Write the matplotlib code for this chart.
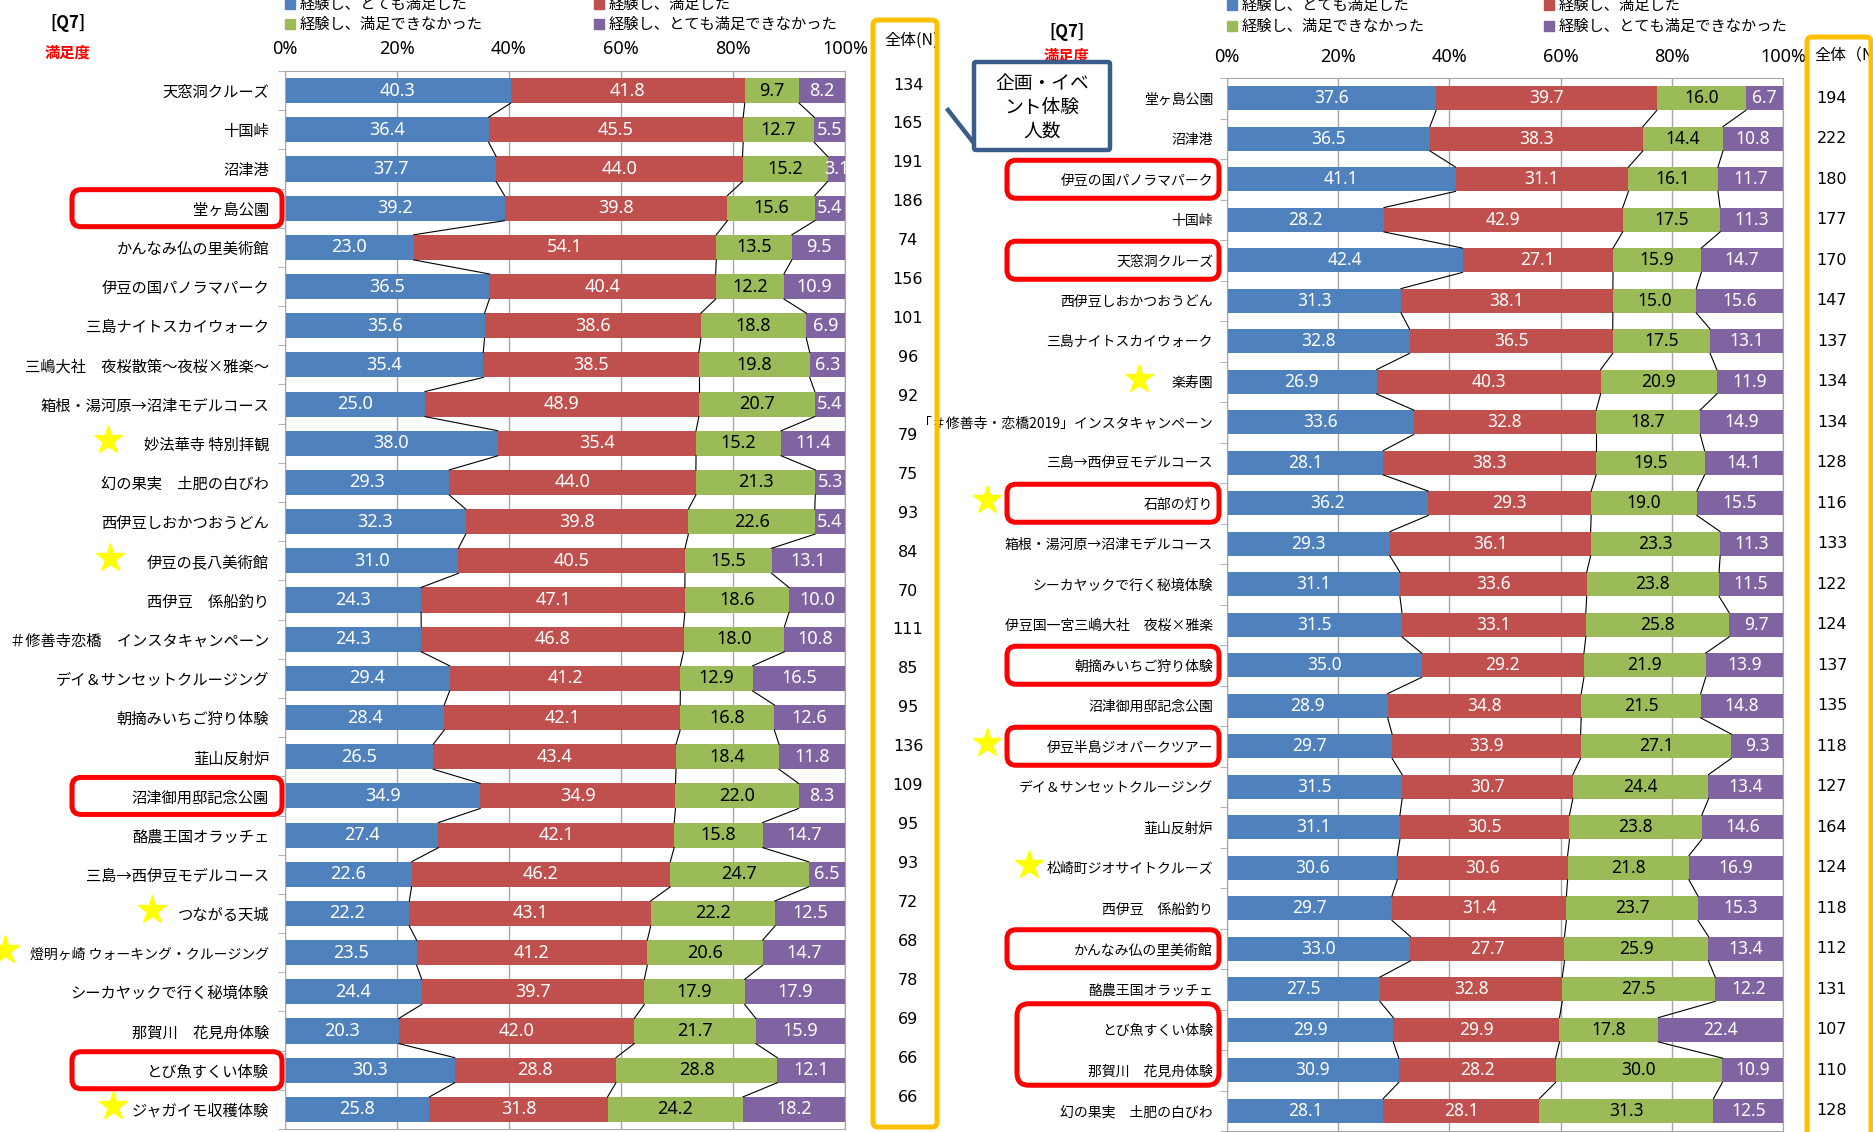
import numpy as np
import matplotlib.pyplot as plt
import matplotlib.transforms as mtrans
from matplotlib.patches import FancyBboxPatch, Rectangle
from matplotlib.lines import Line2D

plt.rcParams['font.family'] = ['Noto Sans CJK JP', 'DejaVu Sans']

# ---- data ----
series = ['経験し、とても満足した', '経験し、満足した',
          '経験し、満足できなかった', '経験し、とても満足できなかった']

left_labels = ['天窓洞クルーズ', '十国峠', '沼津港', '堂ヶ島公園', 'かんなみ仏の里美術館',
               '伊豆の国パノラマパーク', '三島ナイトスカイウォーク', '三嶋大社　夜桜散策～夜桜×雅楽～',
               '箱根・湯河原→沼津モデルコース', '妙法華寺 特別拝観', '幻の果実　土肥の白びわ',
               '西伊豆しおかつおうどん', '伊豆の長八美術館', '西伊豆　係船釣り',
               '＃修善寺恋橋　インスタキャンペーン', 'デイ＆サンセットクルージング', '朝摘みいちご狩り体験',
               '韮山反射炉', '沼津御用邸記念公園', '酪農王国オラッチェ', '三島→西伊豆モデルコース',
               'つながる天城', '燈明ヶ崎 ウォーキング・クルージング', 'シーカヤックで行く秘境体験',
               '那賀川　花見舟体験', 'とび魚すくい体験', 'ジャガイモ収穫体験']
left_very = [40.3, 36.4, 37.7, 39.2, 23.0, 36.5, 35.6, 35.4, 25.0, 38.0, 29.3, 32.3, 31.0, 24.3,
             24.3, 29.4, 28.4, 26.5, 34.9, 27.4, 22.6, 22.2, 23.5, 24.4, 20.3, 30.3, 25.8]
left_sat = [41.8, 45.5, 44.0, 39.8, 54.1, 40.4, 38.6, 38.5, 48.9, 35.4, 44.0, 39.8, 40.5, 47.1,
            46.8, 41.2, 42.1, 43.4, 34.9, 42.1, 46.2, 43.1, 41.2, 39.7, 42.0, 28.8, 31.8]
left_unsat = [9.7, 12.7, 15.2, 15.6, 13.5, 12.2, 18.8, 19.8, 20.7, 15.2, 21.3, 22.6, 15.5, 18.6,
              18.0, 12.9, 16.8, 18.4, 22.0, 15.8, 24.7, 22.2, 20.6, 17.9, 21.7, 28.8, 24.2]
left_very_unsat = [8.2, 5.5, 3.1, 5.4, 9.5, 10.9, 6.9, 6.3, 5.4, 11.4, 5.3, 5.4, 13.1, 10.0,
                   10.8, 16.5, 12.6, 11.8, 8.3, 14.7, 6.5, 12.5, 14.7, 17.9, 15.9, 12.1, 18.2]
left_n = [134, 165, 191, 186, 74, 156, 101, 96, 92, 79, 75, 93, 84, 70, 111, 85, 95, 136, 109,
          95, 93, 72, 68, 78, 69, 66, 66]

right_labels = ['堂ヶ島公園', '沼津港', '伊豆の国パノラマパーク', '十国峠', '天窓洞クルーズ',
                '西伊豆しおかつおうどん', '三島ナイトスカイウォーク', '楽寿園',
                '「＃修善寺・恋橋2019」インスタキャンペーン', '三島→西伊豆モデルコース', '石部の灯り',
                '箱根・湯河原→沼津モデルコース', 'シーカヤックで行く秘境体験', '伊豆国一宮三嶋大社　夜桜×雅楽',
                '朝摘みいちご狩り体験', '沼津御用邸記念公園', '伊豆半島ジオパークツアー',
                'デイ＆サンセットクルージング', '韮山反射炉', '松崎町ジオサイトクルーズ', '西伊豆　係船釣り',
                'かんなみ仏の里美術館', '酪農王国オラッチェ', 'とび魚すくい体験', '那賀川　花見舟体験',
                '幻の果実　土肥の白びわ']
right_very = [37.6, 36.5, 41.1, 28.2, 42.4, 31.3, 32.8, 26.9, 33.6, 28.1, 36.2, 29.3, 31.1, 31.5,
              35.0, 28.9, 29.7, 31.5, 31.1, 30.6, 29.7, 33.0, 27.5, 29.9, 30.9, 28.1]
right_sat = [39.7, 38.3, 31.1, 42.9, 27.1, 38.1, 36.5, 40.3, 32.8, 38.3, 29.3, 36.1, 33.6, 33.1,
             29.2, 34.8, 33.9, 30.7, 30.5, 30.6, 31.4, 27.7, 32.8, 29.9, 28.2, 28.1]
right_unsat = [16.0, 14.4, 16.1, 17.5, 15.9, 15.0, 17.5, 20.9, 18.7, 19.5, 19.0, 23.3, 23.8, 25.8,
               21.9, 21.5, 27.1, 24.4, 23.8, 21.8, 23.7, 25.9, 27.5, 17.8, 30.0, 31.3]
right_very_unsat = [6.7, 10.8, 11.7, 11.3, 14.7, 15.6, 13.1, 11.9, 14.9, 14.1, 15.5, 11.3, 11.5,
                    9.7, 13.9, 14.8, 9.3, 13.4, 14.6, 16.9, 15.3, 13.4, 12.2, 22.4, 10.9, 12.5]
right_n = [194, 222, 180, 177, 170, 147, 137, 134, 134, 128, 116, 133, 122, 124, 137, 135, 118,
           127, 164, 124, 118, 112, 131, 107, 110, 128]

# highlighted / starred items
left_boxed = ['堂ヶ島公園', '沼津御用邸記念公園', 'とび魚すくい体験']
left_stars = {'妙法華寺 特別拝観': 108, '伊豆の長八美術館': 110, 'つながる天城': 152,
              '燈明ヶ崎 ウォーキング・クルージング': 5, 'ジャガイモ収穫体験': 113}
right_boxed = ['伊豆の国パノラマパーク', '天窓洞クルーズ', '石部の灯り', '朝摘みいちご狩り体験',
               '伊豆半島ジオパークツアー', 'かんなみ仏の里美術館']
right_stars = {'楽寿園': 1139, '石部の灯り': 987, '伊豆半島ジオパークツアー': 987,
               '松崎町ジオサイトクルーズ': 1029}

colors = ['#4F81BD', '#C0504D', '#9BBB59', '#8064A2']
txt_colors = ['white', 'white', 'black', 'white']

W, H = 1874, 1132
fig = plt.figure(figsize=(W / 100, H / 100), dpi=100)


def fx(x):
    return x / W


def fy(y):
    return 1 - y / H


def rbox(x0, y0, x1, y1, color, lw, r, face='none', z=6):
    # pixel box (top-left origin) drawn in inches so corners stay round
    p = FancyBboxPatch((x0 / 100, (H - y1) / 100), (x1 - x0) / 100, (y1 - y0) / 100,
                       boxstyle=f'round,pad=0,rounding_size={r}',
                       transform=fig.dpi_scale_trans, facecolor=face,
                       edgecolor=color, lw=lw, zorder=z)
    fig.add_artist(p)


def panel(left, top, right, bottom, labels, cols, lab_size, val_size, bar_h, pad, tick_pad):
    ax = fig.add_axes([fx(left), fy(bottom), fx(right - left), (bottom - top) / H])
    data = np.array(cols, float).T
    vals = data / data.sum(axis=1, keepdims=True) * 100
    n = len(labels)
    y = np.arange(n)
    cum = np.zeros(n)
    for k in range(4):
        ax.barh(y, vals[:, k], left=cum, height=bar_h, color=colors[k], zorder=2)
        for i in range(n):
            ax.text(cum[i] + vals[i, k] / 2, i, f'{data[i, k]:.1f}', ha='center', va='center',
                    color=txt_colors[k], fontsize=val_size, family='Noto Sans', zorder=4)
        cum = cum + vals[:, k]
        # series lines between neighbouring bars
        for i in range(n - 1):
            ax.plot([cum[i], cum[i + 1]], [i + bar_h / 2, i + 1 - bar_h / 2],
                    color='black', lw=0.8, zorder=3)
    ax.set_xlim(0, 100)
    ax.set_ylim(n - 0.5, -0.5)
    ax.xaxis.tick_top()
    ax.set_xticks([0, 20, 40, 60, 80, 100])
    ax.set_xticklabels([f'{v}%' for v in [0, 20, 40, 60, 80, 100]], family='Noto Sans', fontsize=13)
    ax.tick_params(axis='x', length=0, pad=tick_pad)
    ax.set_yticks(y)
    ax.set_yticklabels(labels, fontsize=lab_size)
    ax.set_yticks(np.arange(n + 1) - 0.5, minor=True)
    ax.tick_params(axis='y', which='major', length=0, pad=pad)
    ax.tick_params(axis='y', which='minor', length=5, color='#A6A6A6', direction='out')
    ax.xaxis.grid(True, color='#A6A6A6', lw=1)
    ax.set_axisbelow(True)
    for s in ax.spines.values():
        s.set_color('#A6A6A6')
    return ax


# ---- left panel ----
L_TOP, L_BOT = 71, 1129
axl = panel(285, L_TOP, 845, L_BOT, left_labels,
            [left_very, left_sat, left_unsat, left_very_unsat], 11, 13, 0.64, 11.5, 9)
l_sp = (L_BOT - L_TOP) / len(left_labels)
# the long katakana label is set a little tighter, as in the reference
axl.get_yticklabels()[left_labels.index('燈明ヶ崎 ウォーキング・クルージング')].set_fontsize(10)

# ---- right panel ----
R_TOP, R_BOT = 78, 1131
axr = panel(1227, R_TOP, 1783, R_BOT, right_labels,
            [right_very, right_sat, right_unsat, right_very_unsat], 10, 12.5, 0.6, 10, 9)
r_sp = (R_BOT - R_TOP) / len(right_labels)

# N columns
n_step = (1097 - 85) / (len(left_n) - 1)
for i, v in enumerate(left_n):
    fig.text(fx(908), fy(85 + i * n_step), str(v), ha='center', va='center',
             fontsize=11.5, family='DejaVu Sans')
tr = mtrans.blended_transform_factory(fig.transFigure, axr.transData)
for i, v in enumerate(right_n):
    fig.text(fx(1832), i, str(v), transform=tr, ha='center', va='center',
             fontsize=11.5, family='DejaVu Sans')

fig.text(fx(912), fy(40), '全体(N)', ha='center', va='center', fontsize=11.5, zorder=5)
fig.text(fx(1814), fy(56), '全体（N）', ha='left', va='center', fontsize=11.5, zorder=5)
rbox(873, 20, 937, 1127, '#FFC000', 3.6, 0.05)
rbox(1807, 37, 1871, 1140, '#FFC000', 3.6, 0.05)

# titles
fig.text(fx(68), fy(23), '[Q7]', ha='center', va='center', fontsize=12, weight='bold')
fig.text(fx(68), fy(53), '満足度', ha='center', va='center', fontsize=11, weight='bold', color='red')
fig.text(fx(1067), fy(32), '[Q7]', ha='center', va='center', fontsize=12, weight='bold')
fig.text(fx(1067), fy(56), '満足度', ha='center', va='center', fontsize=11, weight='bold',
         color='red', zorder=5)

# legends
for (x0, x1, y0, y1) in [(285, 594, 4, 24), (1227, 1544, 5, 26)]:
    pos = [(x0, y0), (x1, y0), (x0, y1), (x1, y1)]
    for k, (px, py) in enumerate(pos):
        fig.add_artist(Rectangle((fx(px), fy(py + 5)), 10 / W, 10 / H, color=colors[k],
                                 transform=fig.transFigure))
        fig.text(fx(px + 15), fy(py), series[k], ha='left', va='center', fontsize=11)

# highlight boxes
for name in left_boxed:
    yc = L_TOP + (left_labels.index(name) + 0.5) * l_sp
    rbox(72, yc - 18.5, 282, yc + 18.5, '#FF0000', 3.6, 0.09)
for name in right_boxed:
    yc = R_TOP + (right_labels.index(name) + 0.5) * r_sp
    rbox(1007, yc - 19, 1219, yc + 19, '#FF0000', 3.6, 0.09)
ya = R_TOP + (right_labels.index('とび魚すくい体験') + 0.5) * r_sp
yb = R_TOP + (right_labels.index('那賀川　花見舟体験') + 0.5) * r_sp
rbox(1017, ya - 26, 1219, yb + 15, '#FF0000', 3.6, 0.12)

# stars
for name, x in left_stars.items():
    yc = L_TOP + (left_labels.index(name) + 0.5) * l_sp - 3
    fig.add_artist(Line2D([fx(x)], [fy(yc)], marker='*', ms=21, color='#FFFF00', ls='none',
                          transform=fig.transFigure))
for name, x in right_stars.items():
    yc = R_TOP + (right_labels.index(name) + 0.5) * r_sp - 3
    fig.add_artist(Line2D([fx(x)], [fy(yc)], marker='*', ms=21, color='#FFFF00', ls='none',
                          transform=fig.transFigure))

# callout
rbox(974, 62, 1110, 150, '#3B5D89', 3.2, 0.02, face='white', z=10)
fig.add_artist(Line2D([fx(948), fx(973)], [fy(110), fy(142)], color='#3B5D89', lw=3.2,
                      transform=fig.transFigure, zorder=10))
for j, t in enumerate(['企画・イベ', 'ント体験', '人数']):
    fig.text(fx(1042), fy(83 + 24 * j), t, ha='center', va='center', fontsize=13.5, zorder=11)

fig.savefig('out.png', dpi=100)
